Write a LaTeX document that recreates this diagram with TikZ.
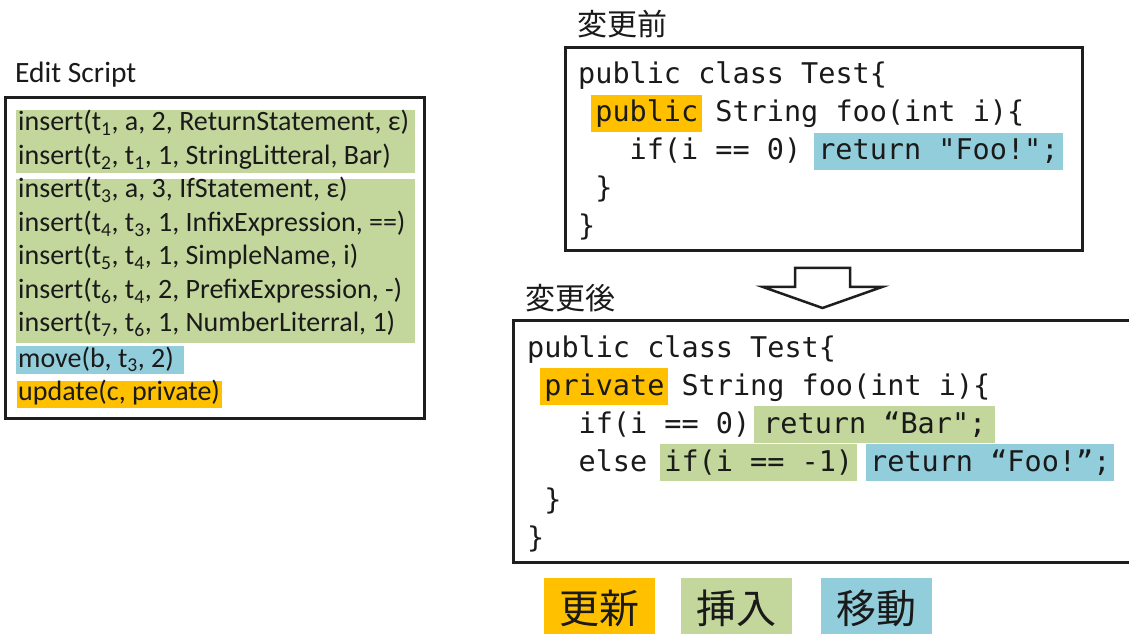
\documentclass[tikz,border=0pt]{standalone}
\usepackage{fontspec}
\setmainfont{Carlito}
\setmonofont{DejaVu Sans Mono}
\newfontfamily\cjkfont{Noto Sans CJK JP}
\definecolor{updcol}{HTML}{FFC000}
\definecolor{inscol}{HTML}{C3D69B}
\definecolor{movcol}{HTML}{92CDDC}
\definecolor{framecol}{HTML}{1E1E1E}
\definecolor{inkcol}{HTML}{1A1A1A}
\newcommand{\cw}{17.15}
\tikzset{
  frame/.style={draw=framecol, line width=3bp},
  scripttext/.style={anchor=base west, inner sep=0pt, text=inkcol,
    font=\fontsize{28bp}{30bp}\selectfont},
  codetext/.style={anchor=base west, inner sep=0pt, text=inkcol,
    font=\fontsize{28.5bp}{30bp}\selectfont\ttfamily},
  hl/.style={codetext, inner xsep=4bp, xshift=-4bp,
    text height=27bp, text depth=10bp},
  caption/.style={anchor=base west, inner sep=0pt, text=inkcol,
    font=\fontsize{30bp}{32bp}\selectfont\cjkfont},
  legendbox/.style={inner sep=0pt, minimum width=111bp, minimum height=60bp,
    anchor=north west, text=inkcol, font=\fontsize{40bp}{42bp}\selectfont\cjkfont},
}
\begin{document}
\begin{tikzpicture}[x=1bp, y=-1bp]
\clip (0,0) rectangle (1129,634);
\fill[white] (0,0) rectangle (1129,634);

% ---- edit script panel ----
\node[scripttext, font=\fontsize{29.5bp}{31bp}\selectfont] (estitle) at (15,83) {Edit Script};
\draw[frame] (5,98) rectangle (424,418);
\fill[inscol] (16,110) rectangle (415,173);
\fill[inscol] (16,179) rectangle (415,343);
\fill[movcol] (16,346) rectangle (184,374);
\fill[updcol] (17,381) rectangle (222,408);
\node[scripttext] (es1) at (18,131) {insert(t\textsubscript{1}, a, 2, ReturnStatement, ε)};
\node[scripttext] (es2) at (18,165) {insert(t\textsubscript{2}, t\textsubscript{1}, 1, StringLitteral, Bar)};
\node[scripttext] (es3) at (18,198) {insert(t\textsubscript{3}, a, 3, IfStatement, ε)};
\node[scripttext] (es4) at (18,232) {insert(t\textsubscript{4}, t\textsubscript{3}, 1, InfixExpression, ==)};
\node[scripttext] (es5) at (18,265) {insert(t\textsubscript{5}, t\textsubscript{4}, 1, SimpleName, i)};
\node[scripttext] (es6) at (18,299) {insert(t\textsubscript{6}, t\textsubscript{4}, 2, PrefixExpression, -)};
\node[scripttext] (es7) at (18,332) {insert(t\textsubscript{7}, t\textsubscript{6}, 1, NumberLiterral, 1)};
\node[scripttext] (es8) at (18,367) {move(b, t\textsubscript{3}, 2)};
\node[scripttext] (es9) at (18,400) {update(c, private)};

% ---- code before the change ----
\node[caption] (beforecap) at (577,36) {変更前};
\draw[frame] (565,48) rectangle (1082,251);
\node[codetext] (b1) at (578,84) {public class Test\{};
\node[hl, fill=updcol] (b2a) at (578+1*\cw,122) {public};
\node[codetext] (b2b) at (578+8*\cw,122) {String foo(int i)\{};
\node[codetext] (b3a) at (578+3*\cw,160) {if(i == 0)};
\node[hl, fill=movcol] (b3b) at (578+14*\cw,160) {return "Foo!";};
\node[codetext] (b4) at (578+1*\cw,198) {\}};
\node[codetext] (b5) at (578,236) {\}};

% ---- open arrow between the two versions ----
\draw[line width=2.5bp, draw=framecol, fill=white, line join=miter]
  (795,268) -- (850,268) -- (850,287) -- (882,287) -- (822.5,308)
  -- (763,287) -- (795,287) -- cycle;

% ---- code after the change ----
\node[caption] (aftercap) at (525,310) {変更後};
\draw[frame] (513,320) rectangle (1140,562);
\node[codetext] (a1) at (527,357) {public class Test\{};
\node[hl, fill=updcol] (a2a) at (527+1*\cw,395) {private};
\node[codetext] (a2b) at (527+9*\cw,395) {String foo(int i)\{};
\node[codetext] (a3a) at (527+3*\cw,433) {if(i == 0)};
\node[hl, fill=inscol, inner xsep=9bp, xshift=-9bp] (a3b) at (527+14*\cw,433) {return “Bar";};
\node[codetext] (a4a) at (527+3*\cw,471) {else};
\node[hl, fill=inscol] (a4b) at (527+8*\cw,471) {if(i == -1)};
\node[hl, fill=movcol] (a4c) at (527+20*\cw,471) {return “Foo!”;};
\node[codetext] (a5) at (527+1*\cw,509) {\}};
\node[codetext] (a6) at (527,547) {\}};

% ---- legend ----
\node[legendbox, fill=updcol] (lgupd) at (544,578) {更新};
\node[legendbox, fill=inscol] (lgins) at (681,578) {挿入};
\node[legendbox, fill=movcol] (lgmov) at (821,578) {移動};
\end{tikzpicture}
\end{document}
